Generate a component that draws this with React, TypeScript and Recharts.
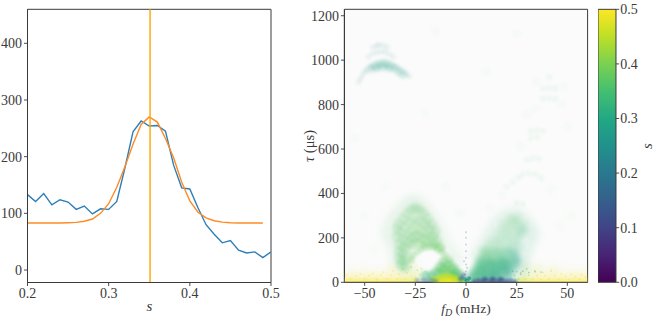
import React from "react";
import {
  LineChart, Line, XAxis, YAxis, ReferenceLine, ReferenceArea, ScatterChart, Scatter,
  BarChart, Bar, Label,
} from "recharts";

const FONT = "'Liberation Serif', serif";
const INK = "#3a3a3a";

// ---- left panel
const sValues = [0.2,0.21,0.22,0.23,0.24,0.25,0.26,0.27,0.28,0.29,0.3,0.31,0.32,0.33,0.34,0.35,0.36,0.37,0.38,0.39,0.4,0.41,0.42,0.43,0.44,0.45,0.46,0.47,0.48,0.49,0.5];
const measured = [133,121,135,115,124,120,107,113,99,108,107,121,180,244,263,254,255,245,185,145,143,110,80,63,48,52,35,30,32,22,32];
const fitted = [83,83,83,83,83,83.5,84,86,90,100,117,146,182,222,257,270,261,232,198,155,122,102,92,87,84.5,83.5,83,83,83,83,null];
const peakS = 0.351;
const lineTicksX = [0.2,0.3,0.4,0.5];
const lineTicksY = [0,100,200,300,400];

// ---- right panel: [fD, tau, s]
const groundLow = [
  [-59,4,.5],[-56,5,.5],[-53,4,.5],[-50,5,.5],[-47,4,.5],[-44,5,.5],[-41,4,.5],[-38,5,.5],[-35,4,.5],[-32,5,.49],[-29,4,.49],[-26,5,.48],
  [26,4,.46],[29,5,.48],[32,4,.49],[35,5,.5],[38,4,.5],[41,5,.5],[44,4,.5],[47,5,.5],[50,4,.5],[53,5,.5],[56,4,.5],[59,5,.5],
];
const groundMid = [
  [-59,18,.5],[-55,20,.5],[-51,17,.5],[-47,21,.5],[-43,18,.5],[-39,20,.5],[-35,19,.5],[-31,21,.49],[-27,18,.48],[-24,24,.47],
  [27,20,.46],[31,18,.47],[35,21,.49],[39,18,.5],[43,20,.5],[47,18,.5],[51,21,.5],[55,19,.5],[59,20,.5],
];
const groundHaze = [
  [-56,40,.5],[-50,44,.5],[-44,40,.5],[-38,46,.5],[-32,42,.48],[-27,48,.46],[29,44,.45],[35,50,.47],[41,42,.5],[47,46,.5],[53,42,.5],[58,40,.5],
  [-36,66,.48],[-30,70,.45],[-25,62,.45],[30,68,.44],[36,64,.46],[43,60,.48],
];
const speckle = [
  [-59,33,.5],[-57,14,.5],[-54,29,.5],[-52,38,.5],[-50,13,.5],[-48,30,.5],[-46,40,.5],[-44,12,.5],[-42,33,.5],[-41,46,.5],[-39,15,.5],[-37,32,.5],[-36,52,.5],[-34,14,.5],[-33,37,.5],[-31,60,.47],[-30,16,.5],[-29,42,.48],[-27,70,.46],[-27,28,.5],[-25,16,.5],[-24,54,.45],[-23,33,.48],[-22,12,.47],[-20,48,.47],[-18,22,.46],[-22,62,.44],
  [24,30,.4],[26,14,.44],[27,44,.38],[29,12,.48],[30,60,.4],[31,32,.46],[33,14,.5],[34,52,.45],[35,30,.5],[37,14,.5],[38,44,.47],[39,30,.5],[41,13,.5],[42,52,.47],[44,30,.5],[46,13,.5],[47,38,.5],[49,28,.5],[51,14,.5],[52,36,.5],[54,27,.5],[56,13,.5],[57,34,.5],[59,24,.5],
];
const speckleCool = [
  [25,48,.22],[28,50,.2],[31,44,.22],[34,48,.24],[37,46,.24],[27,36,.18],[23,50,.22],
];
const leftHalo = [
  [-39,225,.36],[-37,265,.36],[-35,295,.36],[-37,190,.36],[-35,150,.36],[-34,110,.35],[-32,325,.36],[-30,85,.35],[-29,348,.36],[-26,365,.35],[-23,352,.36],[-20,328,.36],
  [-17,292,.36],[-14,248,.36],[-11,195,.36],[-8,140,.36],[-5,100,.35],[-32,70,.34],
];
const leftArcs = [
  [-34,240,.37],[-33,262,.37],[-31,285,.37],[-29,308,.37],[-27,326,.37],[-25,333,.37],[-23,326,.37],[-21,310,.37],[-19,288,.37],[-17,262,.37],[-15,232,.37],
  [-34,205,.37],[-32,225,.37],[-30,248,.37],[-28,268,.37],[-26,282,.37],[-24,280,.37],[-22,272,.37],[-20,258,.37],[-18,240,.37],[-16,212,.37],[-14,188,.37],
  [-33,172,.37],[-31,195,.37],[-29,215,.37],[-27,232,.38],[-25,240,.38],[-23,238,.38],[-21,226,.38],[-19,212,.38],[-17,196,.38],[-15,176,.38],[-13,155,.38],
  [-33,140,.37],[-31,160,.37],[-29,180,.37],[-27,198,.37],[-25,205,.37],[-23,204,.37],[-21,196,.37],[-19,188,.37],[-33,108,.37],[-31,128,.37],[-29,150,.37],
  [-27,168,.37],[-25,178,.38],[-23,176,.38],[-31,98,.37],[-29,112,.37],[-32,78,.36],[-30,70,.36],
];
const leftBright = [
  [-27,100,.38],[-26,122,.38],[-24,138,.38],[-22,150,.38],[-20,158,.38],[-18,160,.38],[-16,158,.38],[-14,150,.38],[-12,136,.38],
  [-10,120,.38],[-8,102,.38],[-7,85,.37],[-5,68,.36],[-3,45,.36],
  [-21,170,.38],[-18,174,.38],[-15,168,.38],[-12,156,.38],
];
const leftLower = [
  [-11,92,.37],[-9,78,.37],[-7,60,.36],[-5,44,.36],[-13,68,.36],[-11,60,.37],[-9,48,.38],[-7,38,.38],[-15,44,.36],[-13,42,.37],[-11,36,.39],[-17,28,.34],[-20,30,.33],[-6,26,.36],[-4,28,.34],
];
const leftCore = [
  [-16,14,.42],[-14,12,.45],[-12,12,.47],[-10,12,.48],[-8,13,.48],[-6,12,.47],[-4,11,.45],[-12,22,.44],[-10,24,.45],[-8,24,.45],[-6,22,.44],[-14,6,.46],[-11,6,.48],[-8,6,.49],[-5,6,.47],[-2,8,.4],
];
const leftDark = [
  [-24,8,.17],[-21,9,.15],[-19,6,.13],[-17,8,.16],[-15,5,.14],[-2,24,.14],[-1.5,14,.12],[-1,34,.12],[-3,16,.18],
];
const rightHalo = [
  [6,125,.33],[9,170,.33],[12,215,.33],[15,258,.33],[19,292,.33],[24,305,.33],[28,285,.33],[31,250,.33],[33,215,.32],[31,175,.32],[29,130,.32],[28,90,.3],[27,55,.3],
];
const rightUpper = [
  [11,165,.35],[14,160,.35],[17,166,.35],[20,160,.34],[23,165,.33],[26,160,.31],
  [14,194,.35],[17,190,.35],[20,196,.35],[23,191,.34],[26,195,.33],
  [17,225,.35],[20,221,.35],[23,226,.35],[26,222,.34],[28,226,.33],
  [19,255,.35],[22,252,.36],[25,255,.35],[28,250,.34],
  [22,282,.36],[25,284,.36],
];
const rightWing = [
  [2,12,.33],[5,16,.33],[8,18,.33],[11,15,.32],[14,18,.31],[17,16,.3],[20,18,.29],
  [4,42,.34],[7,46,.34],[10,40,.33],[13,45,.33],[16,42,.33],[19,46,.32],[22,42,.3],
  [6,74,.34],[9,70,.34],[12,76,.34],[15,72,.33],[18,76,.33],[21,72,.32],[24,74,.3],
  [7,102,.35],[10,105,.34],[13,100,.34],[16,106,.34],[19,100,.33],[22,104,.32],[25,100,.3],
  [9,135,.35],[12,130,.35],[15,136,.34],[18,131,.34],[21,136,.33],[24,130,.31],
];
const rightDense = [
  [3,25,.31],[6,28,.31],[9,30,.3],[12,28,.3],[15,30,.29],[5,55,.32],[8,58,.32],[11,60,.31],[14,55,.3],[17,58,.3],[20,55,.29],
  [8,85,.32],[11,88,.32],[14,84,.32],[17,88,.31],[20,86,.3],
];
const rightDark = [
  [4,4,.12],[6,8,.1],[8,5,.09],[10,9,.1],[12,5,.09],[14,8,.09],[16,5,.09],[18,8,.1],[20,5,.11],[22,7,.14],[24,4,.16],[9,14,.13],[13,15,.12],[17,14,.13],
];
const centreLine = [
  [0,20,.12],[0,50,.15],[0,80,.14],[0,110,.16],[0,140,.17],[0,170,.18],[0,200,.18],[0,225,.2],[-0.5,35,.13],[0.5,65,.15],[-1,95,.16],
];
const centreCore = [[-1,6,.42],[-0.5,14,.3],[0.5,8,.2],[1,4,.34],[1.5,18,.24]];
const farLeftPale = [
  [-53,902,.22],[-52,918,.22],[-51,934,.22],[-50,948,.22],[-49,958,.22],[-47,972,.22],[-35,972,.22],[-33,962,.22],[-31,950,.24],[-29.5,938,.24],[-28,928,.26],
  [-48,1015,.24],[-46,1030,.24],[-44,1036,.24],[-42,1038,.24],[-40,1036,.24],[-38,1028,.24],[-36,1015,.24],
  [-46,1058,.22],[-44,1066,.22],[-43,1068,.22],[-41,1066,.22],[-39,1058,.22],
];
const farLeftMain = [
  [-47,962,.27],[-45,975,.27],[-43,982,.27],[-41,986,.28],[-39,983,.28],[-37,975,.28],[-35,962,.28],[-44,965,.27],[-41,970,.28],[-38,966,.28],[-33,948,.28],[-31,936,.28],
];
const farRightArcs = [
  [41,830,.33],[38,826,.33],[44,826,.33],[41,874,.33],[38,870,.33],[44,872,.33],[41,924,.33],
  [35,685,.32],[32,680,.32],[38,680,.32],[35,655,.32],[32,650,.32],[33,560,.32],[36,555,.32],[30,552,.32],
  [31,491,.35],[28,488,.35],[34,486,.35],[26,472,.34],[37,470,.34],[23,450,.34],[20,430,.34],[25,357,.34],[28,352,.34],
];
const farFaintDots = [
  [12,330,.34],[18,395,.34],[27,610,.33],[30,755,.33],[34,780,.33],[47,800,.33],[48,880,.33],[35,900,.33],[50,700,.33],[-10,430,.34],[-3,310,.3],[-40,430,.36],[-50,300,.36],[-45,150,.4],
  [46,250,.36],[52,300,.36],[42,420,.34],[-20,760,.3],[-55,650,.33],[10,950,.3],[-15,1130,.3],[25,1120,.3],
];

const viridisOffsets = [0,0.1,0.2,0.3,0.4,0.5,0.6,0.7,0.8,0.9,1];
const viridisColors = ["#440154","#482475","#414487","#355f8d","#2a788e","#21918c","#22a884","#44bf70","#7ad151","#bddf26","#fde725"];
const planTicksX = [-50,-25,0,25,50];
const planTicksY = [0,200,400,600,800,1000,1200];
const barTicks = [0,0.1,0.2,0.3,0.4,0.5];
const barData = [{ name: "s", top: 0.5 }];

function hexRgb(h: string) {
  return [1, 3, 5].map((i) => parseInt(h.slice(i, i + 2), 16));
}
function viridis(s: number) {
  const t = Math.max(0, Math.min(1, s / 0.5)) * 10;
  const i = Math.min(9, Math.floor(t));
  const a = hexRgb(viridisColors[i]);
  const b = hexRgb(viridisColors[i + 1]);
  const f = t - i;
  return `rgb(${a.map((v, k) => Math.round(v + (b[k] - v) * f)).join(",")})`;
}
const tick = { fontFamily: FONT, fontSize: 14, fill: INK };
const axisLine = { stroke: INK, strokeWidth: 1 };
const tickLine = { stroke: INK, strokeWidth: 0.9 };
const toRows = (rows: number[][]) => rows.map(([x, y, s]) => ({ x, y, s }));
const abs = (left: number): React.CSSProperties => ({ position: "absolute", left, top: 0 });

const cloud = (name: string, rows: number[][], r: number, opacity: number, blur: number) => (
  <Scatter
    key={name}
    name={name}
    data={toRows(rows)}
    isAnimationActive={false}
    shape={(p: any) => (
      <circle cx={p.cx} cy={p.cy} r={r} fill={viridis(p.payload?.s ?? p.s)} fillOpacity={opacity}
        style={blur ? { filter: `blur(${blur}px)` } : undefined} />
    )}
  />
);

export default function App() {
  const lineData = sValues.map((s, i) => ({ s, measured: measured[i], fitted: fitted[i] }));
  return (
    <div style={{ position: "absolute", left: 0, top: 0, width: 664, height: 320, background: "#fff" }}>
      <div style={abs(0)}>
        <LineChart width={290} height={320} data={lineData} margin={{ left: 0, top: 9.3, right: 19, bottom: 0 }}>
          <XAxis dataKey="s" type="number" domain={[0.2, 0.5]} ticks={lineTicksX} allowDataOverflow height={37.5}
            tick={tick} tickSize={3.5} tickMargin={2} axisLine={axisLine} tickLine={tickLine}
            tickFormatter={(v: number) => v.toFixed(1)}>
            <Label content={() => (
              <text x={149.5} y={311} textAnchor="middle" fontFamily={FONT} fontSize={15} fontStyle="italic" fill={INK}>s</text>
            )} />
          </XAxis>
          <YAxis type="number" domain={[-22, 460]} ticks={lineTicksY} allowDataOverflow width={27.5}
            tick={tick} tickSize={3.5} tickMargin={2} axisLine={axisLine} tickLine={tickLine} />
          <ReferenceArea x1={0.2} x2={0.5} y1={-22} y2={460} fill="none" stroke={INK} strokeWidth={1} ifOverflow="visible" />
          <Line dataKey="measured" stroke="#2d7fb8" strokeWidth={1.4} dot={false} isAnimationActive={false} />
          <Line dataKey="fitted" stroke="#ff8a24" strokeWidth={1.4} dot={false} isAnimationActive={false} connectNulls={false} />
          <ReferenceLine x={peakS} stroke="#ffa500" strokeWidth={1.4} />
        </LineChart>
      </div>

      <div style={abs(300)}>
        <ScatterChart width={300} height={320} margin={{ left: 0, top: 9.3, right: 12.4, bottom: 0 }}>
          <XAxis dataKey="x" type="number" domain={[-60, 60]} ticks={planTicksX} allowDataOverflow height={37.7}
            tick={tick} tickSize={3.5} tickMargin={2} axisLine={axisLine} tickLine={tickLine}
            tickFormatter={(v: number) => (v < 0 ? `\u2212${-v}` : `${v}`)}>
            <Label content={() => (
              <text x={166} y={313} textAnchor="middle" fontFamily={FONT} fontSize={13.5} fill={INK}>
                <tspan fontStyle="italic">f</tspan>
                <tspan fontStyle="italic" fontSize={10} dy={2.5}>D</tspan>
                <tspan dy={-2.5}> (mHz)</tspan>
              </text>
            )} />
          </XAxis>
          <YAxis dataKey="y" type="number" domain={[0, 1229]} ticks={planTicksY} allowDataOverflow width={44.4}
            tick={tick} tickSize={3.5} tickMargin={2} axisLine={axisLine} tickLine={tickLine}>
            <Label content={() => (
              <text x={14} y={146} textAnchor="middle" fontFamily={FONT} fontSize={14.5} fill={INK} transform="rotate(-90 14 146)">
                <tspan fontStyle="italic">{"\u03C4"}</tspan>
                <tspan> ({"\u03BC"}s)</tspan>
              </text>
            )} />
          </YAxis>
          <ReferenceArea x1={-60} x2={60} y1={0} y2={1229} fill="#eef3ef" fillOpacity={0.3} stroke="none" />
          {cloud("groundHaze", groundHaze, 6, 0.07, 2.5)}
          {cloud("groundMid", groundMid, 5, 0.16, 2)}
          {cloud("groundLow", groundLow, 3.5, 0.36, 1)}
          {cloud("speckle", speckle, 0.9, 0.45, 0)}
          {cloud("speckleCool", speckleCool, 0.9, 0.3, 0)}
          {cloud("leftHalo", leftHalo, 8, 0.06, 3)}
          {cloud("leftArcs", leftArcs, 5.5, 0.17, 1.8)}
          {cloud("leftBright", leftBright, 3.5, 0.24, 1.3)}
          {cloud("leftLower", leftLower, 5, 0.4, 1.6)}
          {cloud("leftCore", leftCore, 3.5, 0.65, 1)}
          {cloud("leftDark", leftDark, 2.5, 0.4, 0.8)}
          {cloud("rightHalo", rightHalo, 8, 0.08, 3)}
          {cloud("rightUpper", rightUpper, 5, 0.16, 2)}
          {cloud("rightWing", rightWing, 5, 0.34, 2)}
          {cloud("rightDense", rightDense, 5, 0.26, 2)}
          {cloud("rightDark", rightDark, 2.5, 0.65, 0.8)}
          {cloud("centreLine", centreLine, 1, 0.25, 0.4)}
          {cloud("centreCore", centreCore, 2, 0.7, 0.5)}
          {cloud("farLeftPale", farLeftPale, 3, 0.07, 1.2)}
          {cloud("farLeftMain", farLeftMain, 4.5, 0.15, 1.8)}
          {cloud("farRightArcs", farRightArcs, 3, 0.055, 1)}
          {cloud("farFaintDots", farFaintDots, 4, 0.025, 1.5)}
          <ReferenceArea x1={-60} x2={60} y1={0} y2={1229} fill="none" stroke={INK} strokeWidth={1} ifOverflow="visible" />
        </ScatterChart>
      </div>

      <div style={abs(598.3)}>
        <BarChart width={65.7} height={320} data={barData} barCategoryGap={0} margin={{ left: 0, top: 9.3, right: 0, bottom: 37.7 }}>
          <defs>
            <linearGradient id="viridisBar" x1="0" y1="1" x2="0" y2="0">
              {viridisOffsets.map((o, i) => (
                <stop key={o} offset={o} stopColor={viridisColors[i]} />
              ))}
            </linearGradient>
          </defs>
          <XAxis dataKey="name" hide />
          <YAxis orientation="right" type="number" domain={[0, 0.5]} ticks={barTicks} width={48}
            tick={tick} tickSize={3.5} tickMargin={1} axisLine={false} tickLine={tickLine}
            tickFormatter={(v: number) => v.toFixed(1)}>
            <Label content={() => (
              <text x={54} y={146} textAnchor="middle" fontFamily={FONT} fontSize={15} fontStyle="italic" fill={INK} transform="rotate(-90 54 146)">s</text>
            )} />
          </YAxis>
          <Bar dataKey="top" fill="url(#viridisBar)" stroke={INK} strokeWidth={1} isAnimationActive={false} />
        </BarChart>
      </div>
    </div>
  );
}
